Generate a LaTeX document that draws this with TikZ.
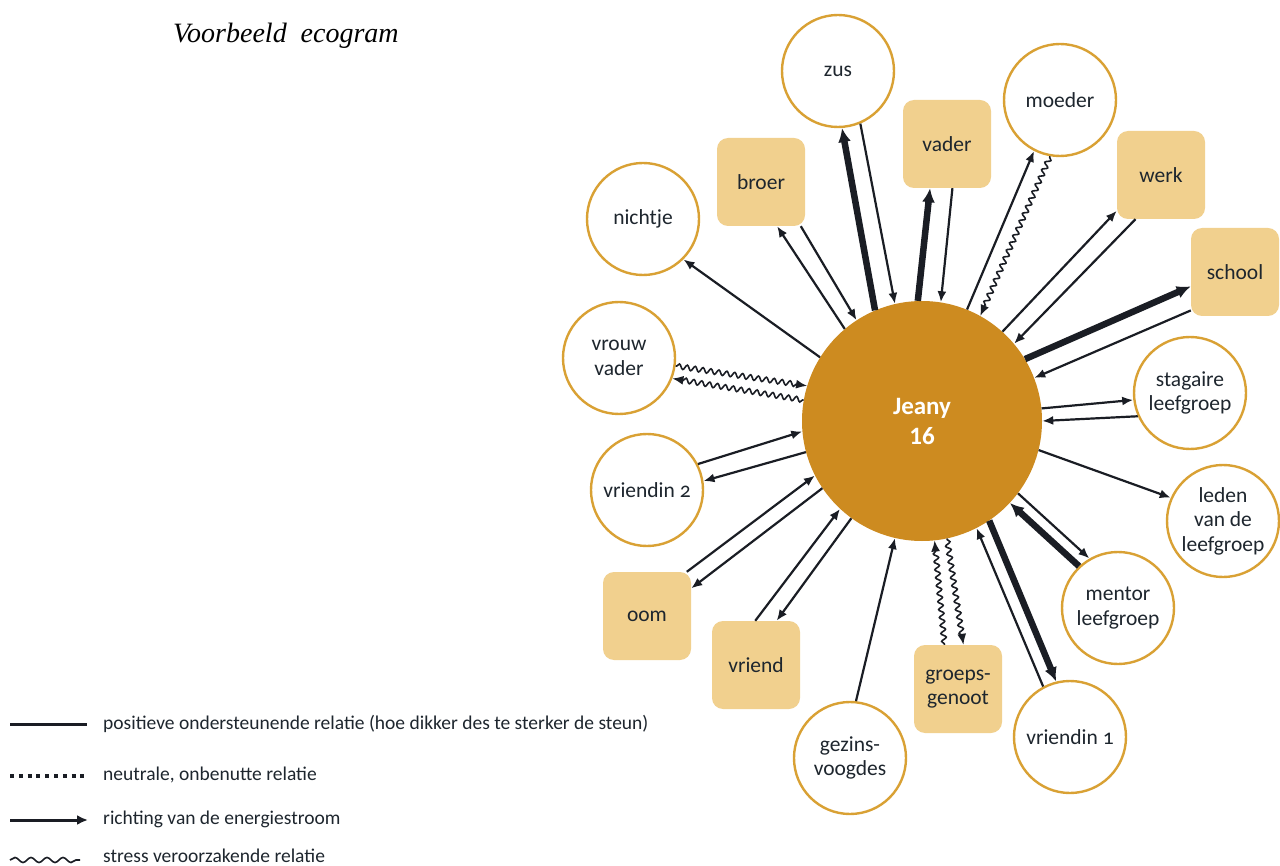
\documentclass[tikz,border=0pt]{standalone}
\usepackage{fontspec}
\setmainfont{Carlito}
\newfontfamily\titlefont{Liberation Serif}
\usetikzlibrary{arrows.meta,decorations.pathmorphing}
\definecolor{ringc}{HTML}{D9A134}
\definecolor{boxc}{HTML}{F1D08E}
\definecolor{jeanyc}{HTML}{CD8B20}
\definecolor{linec}{HTML}{1A1D24}
\definecolor{txtc}{HTML}{1E262E}
\newcommand{\osn}[1]{{\addfontfeatures{Numbers=OldStyle}#1}}
\tikzset{
  pers/.style={circle, draw=ringc, line width=2.4pt, fill=white, minimum size=112pt,
    inner sep=0pt, align=center, text=txtc, font=\fontsize{21.5}{24.5}\selectfont},
  fam/.style={rectangle, rounded corners=11pt, fill=boxc, minimum width=88pt,
    minimum height=88pt, inner sep=0pt, align=center, text=txtc, font=\fontsize{21.5}{24.5}\selectfont},
  lnk/.style={draw=linec, line width=2.2pt, -{Latex[length=11pt,width=9pt]}},
  heavy/.style={draw=linec, line width=6.5pt, -{Latex[length=14pt,width=13pt]}},
  wave/.style={draw=linec, line width=1.6pt, decorate,
    decoration={snake, amplitude=2.5pt, segment length=8pt, pre length=1pt, post length=9pt},
    -{Latex[length=11pt,width=9pt]}},
  legtxt/.style={anchor=west, inner sep=0pt, text=txtc, font=\fontsize{19.5}{21}\selectfont}
}
\begin{document}
\begin{tikzpicture}[x=1pt,y=-1pt]
\useasboundingbox (0,0) rectangle (1280,866);
\fill[white] (0,0) rectangle (1280,866);

\node[anchor=base west, inner sep=0pt, font=\titlefont\itshape\fontsize{28}{30}\selectfont] (title) at (173,43) {Voorbeeld\ \ ecogram};

% centre
\node[circle, fill=jeanyc, minimum size=240pt, inner sep=0pt, text=white, align=center,
  font=\bfseries\fontsize{25}{30}\selectfont] (J) at (922,421) {Jeany\\16};

% persons / circles
\node[pers] (zus) at (838,71) {zus};
\node[pers] (nichtje) at (643,219) {nichtje};
\node[pers] (moeder) at (1060,100) {moeder};
\node[pers] (stag) at (1190,393) {stagaire\\leefgroep};
\node[pers] (leden) at (1223,521) {leden\\van de\\leefgroep};
\node[pers] (mentor) at (1118,608) {mentor\\leefgroep};
\node[pers] (vr1) at (1070,737) {vriendin \osn{1}};
\node[pers] (gv) at (850,758) {gezins-\\voogdes};
\node[pers] (vr2) at (647,490) {vriendin \osn{2}};
\node[pers] (vv) at (619,358) {vrouw\\vader};

% boxes
\node[fam] (broer) at (761,182) {broer};
\node[fam] (vader) at (947,144) {vader};
\node[fam] (werk) at (1161,175) {werk};
\node[fam] (school) at (1235,272) {school};
\node[fam] (gg) at (958,689) {groeps-\\genoot};
\node[fam] (vriend) at (756,665) {vriend};
\node[fam] (oom) at (647,616) {oom};

% connectors
\draw[heavy] (J.113.3) -- (zus.-86.2);
\draw[lnk] (zus.-67.8) -- (J.103.9);
\draw[lnk] (J.130.5) -- (broer.-70.5);
\draw[lnk] (broer.-48) -- (J.123.1);
\draw[lnk] (J.148.3) -- (nichtje.-45.7);
\draw[heavy] (J.92.3) -- (vader.-111.6);
\draw[lnk] (vader.-83.8) -- (J.81.7);
\draw[lnk] (J.68) -- (moeder.-117.8);
\draw[wave] (moeder.-100) -- (J.61.2);
\draw[lnk] (J.48.3) -- (werk.-141.2);
\draw[lnk] (werk.-120.8) -- (J.40.8);
\draw[heavy] (J.31.1) -- (school.-162.3);
\draw[lnk] (school.-139.4) -- (J.21.3);
\draw[lnk] (J.6.5) -- (stag.-173.3);
\draw[lnk] (stag.-156.4) -- (J.-0.9);
\draw[lnk] (J.-14.7) -- (leden.156.4);
\draw[heavy] (mentor.133.5) -- (J.-43.4);
\draw[lnk] (J.-37.2) -- (mentor.120.5);
\draw[heavy] (J.-56.8) -- (vr1.104);
\draw[lnk] (vr1.118.3) -- (J.-63.8);
\draw[wave] (gg.107.2) -- (J.-84.8);
\draw[wave] (J.-78.4) -- (gg.83.9);
\draw[lnk] (gv.84.8) -- (J.-103.5);
\draw[lnk] (vriend.91.3) -- (J.-133);
\draw[lnk] (J.-126.8) -- (vriend.65);
\draw[lnk] (oom.48.5) -- (J.-153.9);
\draw[lnk] (J.-146) -- (oom.32.2);
\draw[lnk] (vr2.27) -- (J.185.6);
\draw[lnk] (J.-165.4) -- (vr2.9.5);
\draw[wave] (vv.-8.8) -- (J.163.2);
\draw[wave] (J.170.1) -- (vv.-21.4);

% legend
\coordinate (la1) at (10,724); \coordinate (lb1) at (87,724);
\coordinate (la2) at (10,776); \coordinate (lb2) at (87,776);
\coordinate (la3) at (10,820); \coordinate (lb3) at (88,820);
\coordinate (la4) at (10,860); \coordinate (lb4) at (80,860);
\draw[linec, line width=3pt] (la1) -- (lb1);
\draw[linec, line width=3.4pt, dash pattern=on 4pt off 4.8pt] (la2) -- (lb2);
\draw[linec, line width=3pt, -{Latex[length=11pt,width=10pt]}] (la3) -- (lb3);
\draw[linec, line width=1.6pt, decorate, decoration={snake, amplitude=2.5pt, segment length=16pt}] (la4) -- (lb4);
\node[legtxt] (t1) at (103,724) {positieve ondersteunende relatie (hoe dikker des te sterker de steun)};
\node[legtxt] (t2) at (103,775) {neutrale, onbenutte relatie};
\node[legtxt] (t3) at (103,819) {richting van de energiestroom};
\node[legtxt] (t4) at (103,856) {stress veroorzakende relatie};
\end{tikzpicture}
\end{document}
